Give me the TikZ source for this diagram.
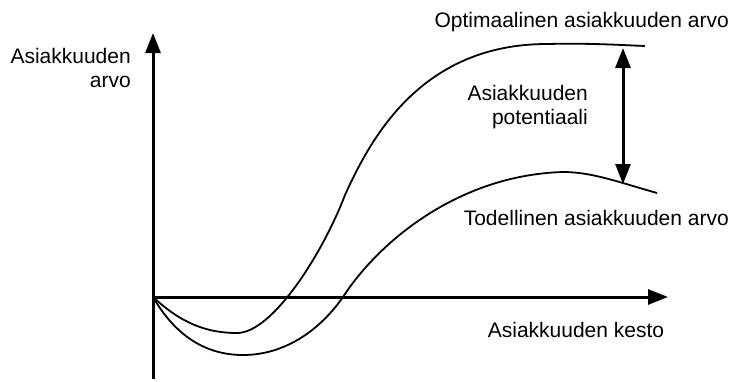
\documentclass[tikz,border=0pt]{standalone}
\usepackage{fontspec}
\setmainfont{Liberation Sans}
\usetikzlibrary{arrows.meta}
\begin{document}
\begin{tikzpicture}[x=1pt,y=-1pt,
  axis/.style={line width=3pt,-{Triangle[width=15pt,length=20pt]}},
  gap/.style={line width=3pt,{Triangle[width=15pt,length=20pt]}-{Triangle[width=15pt,length=20pt]}},
  curve/.style={line width=1.8pt,line join=round},
  lbl/.style={inner sep=0pt,font=\fontsize{21}{24}\selectfont,align=right}]
\useasboundingbox (0,0) rectangle (733,381);

% axes
\coordinate (o) at (153,297);
\coordinate (ybot) at (153,379);
\coordinate (ytop) at (153,33);
\coordinate (xend) at (668,297);
\draw[axis] (ybot) -- (ytop);
\draw[axis] (o) -- (xend);

% optimal customer value
\coordinate (u1) at (237,333);
\coordinate (u2) at (345,195);
\coordinate (u3) at (547,44);
\coordinate (u4) at (645,46);
\draw[curve] (o) .. controls (180,322) and (205,333) .. (u1)
  .. controls (272,333) and (322,255) .. (u2)
  .. controls (370,140) and (420,44) .. (u3)
  .. controls (590,43) and (620,45) .. (u4);

% actual customer value
\coordinate (l1) at (243,355);
\coordinate (l2) at (343,297);
\coordinate (l3) at (563,172);
\coordinate (l4) at (657,193);
\draw[curve] (o) .. controls (175,335) and (205,355) .. (l1)
  .. controls (285,355) and (320,330) .. (l2)
  .. controls (380,240) and (460,175) .. (l3)
  .. controls (592,172) and (618,182) .. (l4);

% potential gap
\coordinate (gtop) at (623,48);
\coordinate (gbot) at (623,184);
\draw[gap] (gtop) -- (gbot);

% labels
\node[lbl,anchor=east] (yl) at (131,68) {Asiakkuuden\\arvo};
\node[lbl,anchor=east] (top) at (729,22) {Optimaalinen asiakkuuden arvo};
\node[lbl,anchor=east] (pot) at (588,107) {Asiakkuuden\\potentiaali};
\node[lbl,anchor=east] (act) at (729,218) {Todellinen asiakkuuden arvo};
\node[lbl] (xl) at (576,330) {Asiakkuuden kesto};
\end{tikzpicture}
\end{document}
